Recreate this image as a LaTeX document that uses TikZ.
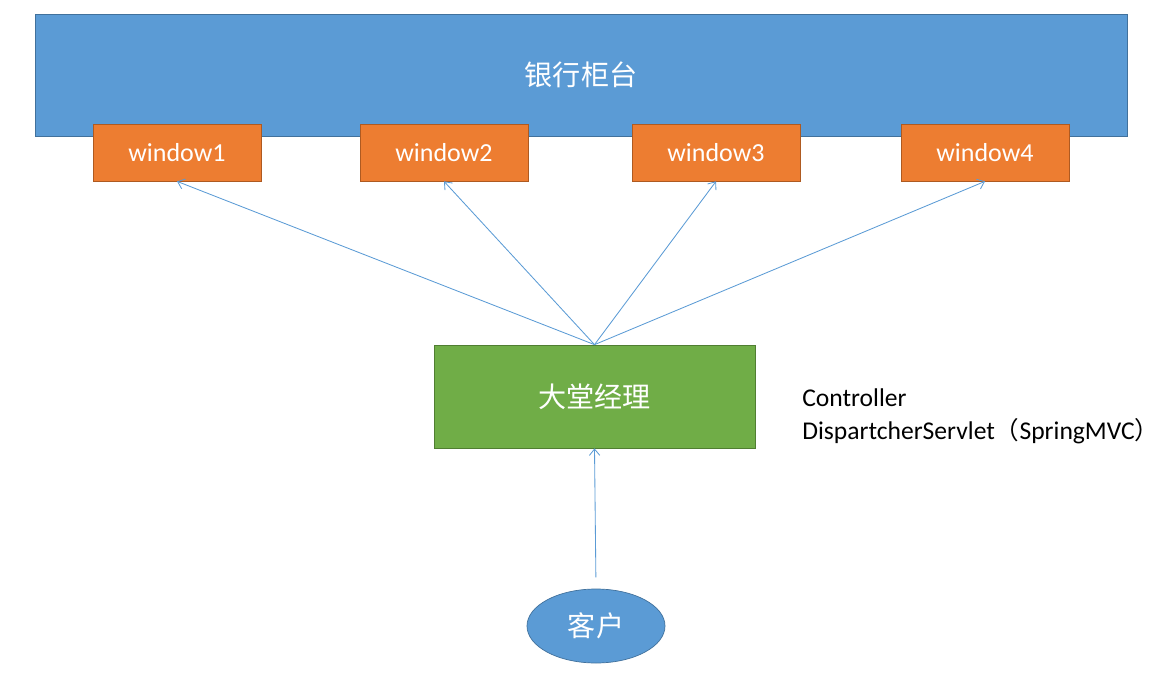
\documentclass[tikz,border=0pt]{standalone}
\usepackage{fontspec}
\setmainfont{Carlito}
\newfontfamily\cjk{Noto Sans CJK SC}
\usetikzlibrary{arrows.meta,shapes.geometric}
\definecolor{officeblue}{HTML}{5B9BD5}
\definecolor{officeblueline}{HTML}{41719C}
\definecolor{officeorange}{HTML}{ED7D31}
\definecolor{officeorangeline}{HTML}{AE5A21}
\definecolor{officegreen}{HTML}{70AD47}
\definecolor{officegreenline}{HTML}{507E32}

\begin{document}
\begin{tikzpicture}
  [every node/.style={text=white, inner sep=0pt},
   counter/.style={rectangle, fill=officeblue, draw=officeblueline, line width=0.5pt,
                   minimum width=27.3cm, minimum height=3.05cm, font=\cjk\fontsize{20}{24}\selectfont},
   window/.style={rectangle, fill=officeorange, draw=officeorangeline, line width=0.5pt,
                  minimum width=4.2cm, minimum height=1.425cm, font=\fontsize{18.5}{22}\selectfont},
   manager/.style={rectangle, fill=officegreen, draw=officegreenline, line width=0.5pt,
                   minimum width=8.025cm, minimum height=2.575cm, font=\cjk\fontsize{20}{24}\selectfont},
   client/.style={ellipse, fill=officeblue, draw=officeblueline, line width=0.5pt,
                  minimum width=3.45cm, minimum height=1.85cm, font=\cjk\fontsize{20}{24}\selectfont},
   link/.style={draw=officeblue, line width=0.6pt, -{Straight Barb[length=1.6mm,width=2.6mm]}}]
  \useasboundingbox (0,0) rectangle (29.375,-17);
  \node[counter] (counter) at (14.525,-1.875) {银行柜台};
  \node[window] (w1) at (4.425,-3.8125) {window1};
  \node[window] (w2) at (11.1,-3.8125) {window2};
  \node[window] (w3) at (17.9,-3.8125) {window3};
  \node[window] (w4) at (24.625,-3.8125) {window4};
  \node[manager] (manager) at (14.8625,-9.9125) {大堂经理};
  \node[client] (client) at (14.9,-15.65) {客户};
  \node[text=black, anchor=west, align=left, font=\fontsize{18.2}{23.5}\selectfont]
    (note) at (20.05,-10.4) {Controller\\DispartcherServlet{\cjk\fontsize{17.5}{23.5}\selectfont （}SpringMVC{\cjk\fontsize{17.5}{23.5}\selectfont ）}};
  \foreach \w in {w1,w2,w3,w4}
    \draw[link] (manager.north) -- (\w.south);
  \draw[link, shorten <=0.28cm] (client.north) -- (manager.south);
\end{tikzpicture}
\end{document}
